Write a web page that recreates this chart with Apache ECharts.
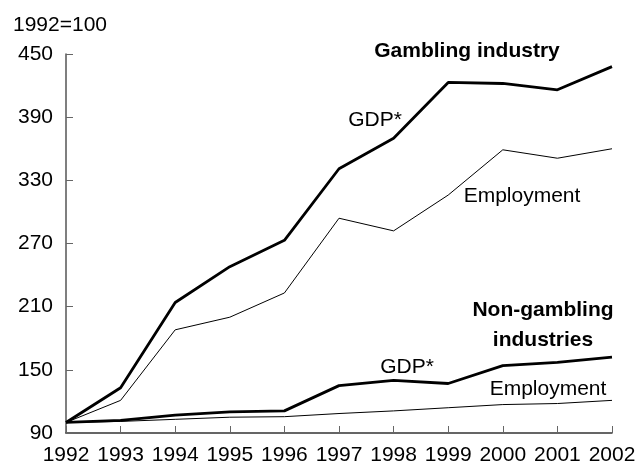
<!DOCTYPE html>
<html>
<head>
<meta charset="utf-8">
<script src="https://cdn.jsdelivr.net/npm/echarts@6/dist/echarts.min.js"></script>
<style>
  html, body { margin: 0; padding: 0; background: #fff; }
  #chart { width: 637px; height: 463px; }
</style>
</head>
<body>
<div id="chart"></div>
<script>
// 数据
var years = ['1992', '1993', '1994', '1995', '1996', '1997', '1998', '1999', '2000', '2001', '2002']
var gamblingGdp = [100, 133, 214, 248, 273, 341, 370, 423, 422, 416, 438]
var gamblingEmp = [100, 121, 188, 200, 223, 294, 282, 316, 359, 351, 360]
var nonGamblingGdp = [100, 102, 107, 110, 111, 135, 140, 137, 154, 157, 162]
var nonGamblingEmp = [100, 101, 103, 105, 105.5, 108.5, 111, 114, 117, 118, 121]
var yTicks = [90, 150, 210, 270, 330, 390, 450]

var font = 'Liberation Sans, Arial, sans-serif'

function lineSeries(name, data, width) {
  return {
    name: name,
    type: 'line',
    data: data,
    symbol: 'none',
    silent: true,
    lineStyle: { color: '#000', width: width }
  }
}

// 注释文字（居中）
function note(x, y, text, bold) {
  return {
    type: 'text',
    x: x,
    y: y,
    silent: true,
    style: {
      text: text,
      fill: '#000',
      font: (bold ? 'bold ' : '') + '21px ' + font,
      textAlign: 'center',
      textVerticalAlign: 'middle',
      verticalAlign: 'middle'
    }
  }
}

var option = {
  animation: false,
  backgroundColor: '#fff',
  grid: { left: 66, right: 25, top: 54, bottom: 30, outerBoundsMode: 'none', containLabel: false },
  xAxis: {
    type: 'category',
    data: years,
    boundaryGap: false,
    axisLine: { lineStyle: { color: '#333', width: 1.5 } },
    axisTick: { inside: true, length: 7, interval: 0, lineStyle: { color: '#666' } },
    axisLabel: { color: '#000', fontSize: 21, fontFamily: font, margin: 12, interval: 0, hideOverlap: false },
    splitLine: { show: false }
  },
  yAxis: {
    type: 'value',
    min: yTicks[0],
    max: yTicks[yTicks.length - 1],
    interval: 60,
    axisLine: { show: true, lineStyle: { color: '#555', width: 1.5 } },
    axisTick: { show: true, inside: true, length: 7, lineStyle: { color: '#666' } },
    axisLabel: { color: '#000', fontSize: 21, fontFamily: font, margin: 13 },
    splitLine: { show: false }
  },
  graphic: [
    { type: 'text', x: 13, y: 25, silent: true,
      style: { text: '1992=100', fill: '#000', font: '21px ' + font, textVerticalAlign: 'middle', verticalAlign: 'middle' } },
    note(467, 51, 'Gambling industry', true),
    note(375, 120, 'GDP*'),
    note(522, 196, 'Employment'),
    note(543, 310, 'Non-gambling', true),
    note(543, 340, 'industries', true),
    note(407, 367, 'GDP*'),
    note(548, 389, 'Employment')
  ],
  series: [
    lineSeries('Gambling GDP', gamblingGdp, 2.8),
    lineSeries('Gambling employment', gamblingEmp, 1),
    lineSeries('Non-gambling GDP', nonGamblingGdp, 2.8),
    lineSeries('Non-gambling employment', nonGamblingEmp, 1)
  ]
}

var myChart = echarts.init(document.getElementById('chart'))
myChart.setOption(option)
</script>
</body>
</html>
